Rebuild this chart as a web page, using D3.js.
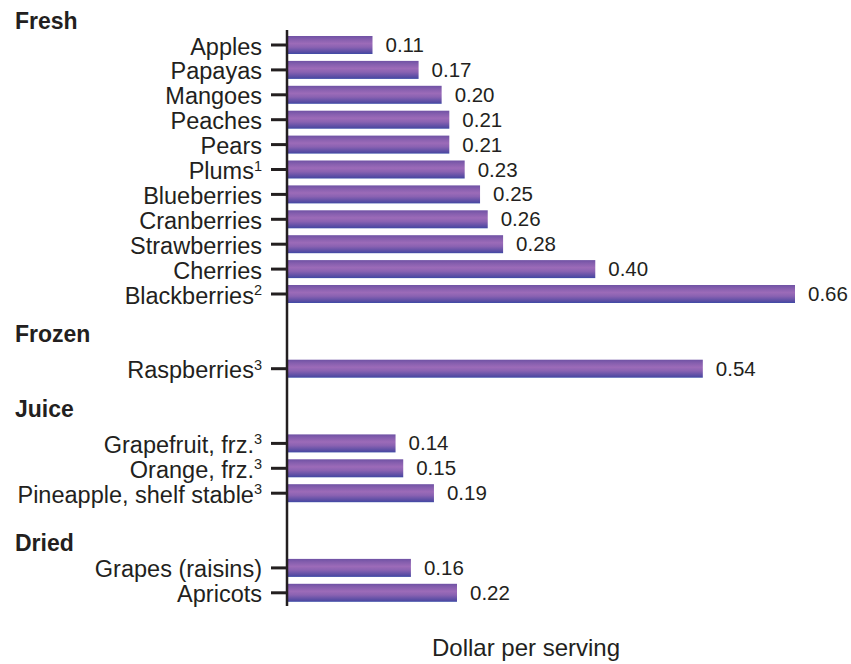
<!DOCTYPE html>
<html lang="en">
<head>
<meta charset="utf-8">
<title>Dollar per serving</title>
<script src="https://d3js.org/d3.v7.min.js"></script>
<style>
  body { margin: 0; background: #fff; }
  text { font-family: Helvetica, Arial, "Liberation Sans", sans-serif; fill: #231f20; }
</style>
</head>
<body>
<svg width="851" height="664"></svg>
<script>
// data
var groups = ["Fresh", "Frozen", "Juice", "Dried"];
var fruits = ["Apples", "Papayas", "Mangoes", "Peaches", "Pears", "Plums", "Blueberries",
              "Cranberries", "Strawberries", "Cherries", "Blackberries",
              "Raspberries",
              "Grapefruit, frz.", "Orange, frz.", "Pineapple, shelf stable",
              "Grapes (raisins)", "Apricots"];
var groupOf = ["Fresh", "Fresh", "Fresh", "Fresh", "Fresh", "Fresh", "Fresh",
               "Fresh", "Fresh", "Fresh", "Fresh",
               "Frozen",
               "Juice", "Juice", "Juice",
               "Dried", "Dried"];
var notes = ["", "", "", "", "", "1", "", "", "", "", "2", "3", "3", "3", "3", "", ""];
var values = [0.11, 0.17, 0.20, 0.21, 0.21, 0.23, 0.25, 0.26, 0.28, 0.40, 0.66,
              0.54,
              0.14, 0.15, 0.19,
              0.16, 0.22];

var svg = d3.select("svg");

// row slots, 2 empty slots between groups
var rows = [], slot = 0, firstSlot = {};
fruits.forEach(function(f, i) {
  if (i > 0 && groupOf[i] !== groupOf[i - 1]) slot += 2;
  if (firstSlot[groupOf[i]] == null) firstSlot[groupOf[i]] = slot;
  rows.push({name: f, note: notes[i], value: values[i], slot: slot});
  slot++;
});
// how far above the first bar each heading sits (in slots)
var headOffset = {Fresh: 0.95, Frozen: 1.4, Juice: 1.4, Dried: 1.0};

var y = d3.scaleLinear().domain([0, 22]).range([45, 592.8]);
var x = d3.scaleLinear().domain([0, 0.66]).range([288, 795]);
var barH = 18;

var defs = svg.append("defs");
var grad = defs.append("linearGradient")
    .attr("id", "barGrad")
    .attr("x1", 0).attr("y1", 0).attr("x2", 0).attr("y2", 1);
[[0, "#6f52a4"], [0.18, "#855eae"], [0.42, "#9c6bb8"], [0.62, "#8a62b2"],
 [0.85, "#6050a6"], [0.94, "#5049a2"], [1, "#3a4ea8"]].forEach(function(s) {
  grad.append("stop").attr("offset", s[0]).attr("stop-color", s[1]);
});

// bars
svg.append("g")
  .selectAll("rect")
  .data(rows)
  .enter().append("rect")
    .attr("x", x(0))
    .attr("y", function(d) { return y(d.slot) - barH / 2; })
    .attr("width", function(d) { return x(d.value) - x(0); })
    .attr("height", barH)
    .attr("fill", "url(#barGrad)");

// value labels
svg.append("g")
  .selectAll("text")
  .data(rows)
  .enter().append("text")
    .attr("x", function(d) { return x(d.value) + 13; })
    .attr("y", function(d) { return y(d.slot) + 7; })
    .attr("font-size", 20.5)
    .text(function(d) { return d.value.toFixed(2); });

// axis line + ticks
svg.append("line")
    .attr("x1", 287).attr("x2", 287)
    .attr("y1", 30).attr("y2", 606)
    .attr("stroke", "#231f20")
    .attr("stroke-width", 2.5);

svg.append("g")
  .selectAll("line")
  .data(rows)
  .enter().append("line")
    .attr("x1", 271).attr("x2", 287)
    .attr("y1", function(d) { return y(d.slot); })
    .attr("y2", function(d) { return y(d.slot); })
    .attr("stroke", "#231f20")
    .attr("stroke-width", 3);

// category labels
var lab = svg.append("g")
  .selectAll("text")
  .data(rows)
  .enter().append("text")
    .attr("x", 262)
    .attr("y", function(d) { return y(d.slot) + 9.5; })
    .attr("text-anchor", "end")
    .attr("font-size", 23.5);
lab.append("tspan").text(function(d) { return d.name; });
lab.filter(function(d) { return d.note; })
  .append("tspan")
    .attr("font-size", 14.5)
    .attr("dy", -8.5)
    .text(function(d) { return d.note; });

// group headings
svg.append("g")
  .selectAll("text")
  .data(groups)
  .enter().append("text")
    .attr("x", 15)
    .attr("y", function(g) { return y(firstSlot[g] - headOffset[g]) + 8; })
    .attr("font-size", 23)
    .attr("font-weight", "bold")
    .text(function(g) { return g; });

// axis title
svg.append("text")
    .attr("x", 526)
    .attr("y", 656)
    .attr("text-anchor", "middle")
    .attr("font-size", 24)
    .text("Dollar per serving");
</script>
</body>
</html>
